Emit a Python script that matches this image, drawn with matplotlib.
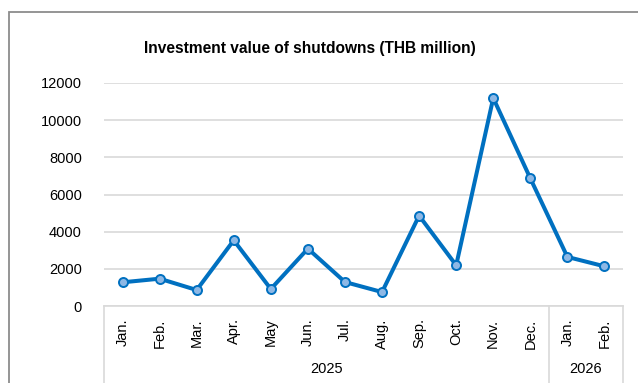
import matplotlib.pyplot as plt
from matplotlib.patches import Rectangle
from matplotlib.transforms import blended_transform_factory

plt.rcParams['font.family'] = ['Liberation Sans', 'DejaVu Sans']

months = ['Jan.', 'Feb.', 'Mar.', 'Apr.', 'May', 'Jun.', 'Jul.', 'Aug.', 'Sep.', 'Oct.', 'Nov.', 'Dec.', 'Jan.', 'Feb.']
values = [1275, 1470, 860, 3535, 915, 3085, 1290, 750, 4860, 2190, 11190, 6870, 2640, 2135]
years = ['2025', '2026']
year_counts = [12, 2]
yticks = [0, 2000, 4000, 6000, 8000, 10000, 12000]

W, H = 638, 383
fig = plt.figure(figsize=(W / 100, H / 100), dpi=100)

# outer chart border (right/bottom edges fall outside the image)
fig.patches.append(Rectangle((9 / W, -0.1), 1.2, (H - 12) / H + 0.1, transform=fig.transFigure,
                             fill=False, edgecolor='#8c8c8c', linewidth=1.3))

ax = fig.add_axes([104 / W, (H - 306) / H, 519 / W, 223 / H])
x = list(range(len(values)))
ax.plot(x, values, color='#0070C0', linewidth=2.9, marker='o', markersize=6.5,
        markerfacecolor='#8EB8E5', markeredgecolor='#0070C0', markeredgewidth=1.4, zorder=3)

ax.set_xlim(-0.5, len(values) - 0.5)
ax.set_ylim(0, 12000)
ax.set_yticks(yticks)
ax.set_yticklabels([str(v) for v in yticks], fontsize=10.5)
ax.yaxis.grid(True, color='#d9d9d9', linewidth=1.2)
ax.set_axisbelow(True)
ax.tick_params(axis='y', length=0, pad=16)
ax.set_xticks(x)
ax.set_xticklabels(months, rotation=90, fontsize=10.5)
ax.tick_params(axis='x', length=0, pad=9)
for s in ['left', 'right', 'top']:
    ax.spines[s].set_visible(False)
ax.spines['bottom'].set_color('#d9d9d9')
ax.spines['bottom'].set_linewidth(1.2)

# group separators and year labels under the month labels
trans = blended_transform_factory(ax.transData, ax.transAxes)
start = -0.5
bounds = [start]
for n in year_counts:
    bounds.append(bounds[-1] + n)
for b in bounds:
    ax.plot([b, b], [0, -0.5], transform=trans, color='#d9d9d9', linewidth=1.2, clip_on=False)
for i, yr in enumerate(years):
    ax.text((bounds[i] + bounds[i + 1]) / 2, -0.283, yr, transform=trans,
            ha='center', va='center', fontsize=10.5)

fig.text(310 / W, 1 - 48 / H, 'Investment value of shutdowns (THB million)',
         ha='center', va='center', fontsize=11.2, fontweight='bold')

fig.savefig('out.png', dpi=100)
